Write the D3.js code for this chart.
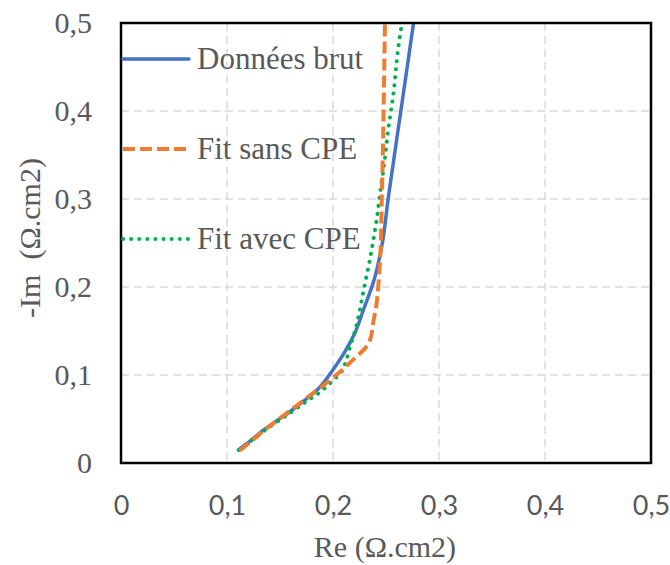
<!DOCTYPE html>
<html><head><meta charset="utf-8">
<script src="https://cdn.jsdelivr.net/npm/d3@7/dist/d3.min.js"></script>
<style>body{margin:0;background:#fff}</style>
</head><body>
<svg id="chart" width="670" height="565"></svg>
<script>
const xTicks = [0, 0.1, 0.2, 0.3, 0.4, 0.5];
const yTicks = [0, 0.1, 0.2, 0.3, 0.4, 0.5];
const seriesNames = ["Données brut", "Fit sans CPE", "Fit avec CPE"];

const brutX = [0.111, 0.122, 0.134, 0.147, 0.159, 0.172, 0.185, 0.200, 0.210, 0.220, 0.229, 0.238, 0.246, 0.252, 0.264, 0.276];
const brutY = [0.015, 0.025, 0.037, 0.048, 0.058, 0.070, 0.083, 0.106, 0.124, 0.146, 0.175, 0.205, 0.246, 0.300, 0.400, 0.500];

const sansX = [0.112, 0.124, 0.136, 0.148, 0.160, 0.172, 0.185, 0.197, 0.207, 0.216, 0.224, 0.230, 0.235, 0.238, 0.241, 0.243, 0.245, 0.246, 0.247, 0.248, 0.249];
const sansY = [0.014, 0.026, 0.038, 0.049, 0.060, 0.071, 0.083, 0.094, 0.104, 0.114, 0.123, 0.130, 0.140, 0.160, 0.180, 0.205, 0.245, 0.300, 0.350, 0.420, 0.500];

const avecX = [0.111, 0.120, 0.129, 0.139, 0.150, 0.162, 0.175, 0.186, 0.194, 0.201, 0.207, 0.212, 0.216, 0.221, 0.225, 0.229, 0.233, 0.237, 0.241, 0.244, 0.248, 0.252, 0.257, 0.261, 0.265];
const avecY = [0.015, 0.023, 0.031, 0.040, 0.049, 0.059, 0.070, 0.079, 0.087, 0.095, 0.102, 0.115, 0.132, 0.151, 0.172, 0.197, 0.220, 0.246, 0.275, 0.303, 0.337, 0.378, 0.420, 0.466, 0.500];

const svg = d3.select("#chart");
const L = 121, R = 651, T = 23, B = 463;
const x = d3.scaleLinear().domain([0, 0.5]).range([L, R]);
const y = d3.scaleLinear().domain([0, 0.5]).range([B, T]);
const fmt = d => d3.format(".1f")(d).replace(".", ",").replace(/^0,0$/, "0");
const grey = "#595959";
const serif = "'Liberation Serif','Times New Roman',serif";
const sans = "Lato,'Liberation Sans',sans-serif";

// grid
const grid = svg.append("g");
grid.selectAll("line.v").data(xTicks.slice(1, -1)).enter().append("line")
  .attr("x1", d => x(d)).attr("x2", d => x(d)).attr("y1", T).attr("y2", B)
  .attr("stroke", "#d9d9d9").attr("stroke-width", 1.5).attr("stroke-dasharray", "8,5");
grid.selectAll("line.h").data(yTicks.slice(1, -1)).enter().append("line")
  .attr("x1", L).attr("x2", R).attr("y1", d => y(d)).attr("y2", d => y(d))
  .attr("stroke", "#d9d9d9").attr("stroke-width", 1.5).attr("stroke-dasharray", "8,5");

// axes tick labels via d3 axes
const xAxis = svg.append("g").attr("transform", `translate(0,${B})`)
  .call(d3.axisBottom(x).tickValues(xTicks).tickFormat(fmt).tickSize(0).tickPadding(33));
xAxis.select(".domain").remove();
xAxis.attr("font-family", null).attr("font-size", null);
xAxis.selectAll("text").style("font-family", sans).style("font-size", "27px").attr("fill", grey);

const yAxis = svg.append("g").attr("transform", `translate(${L},0)`)
  .call(d3.axisLeft(y).tickValues(yTicks).tickFormat(fmt).tickSize(0).tickPadding(29));
yAxis.select(".domain").remove();
yAxis.attr("font-family", null).attr("font-size", null);
yAxis.selectAll("text").style("font-family", serif).style("font-size", "30px").attr("fill", grey);

// series
const mk = (xs, ys) => xs.map((v, i) => [v, ys[i]]);
const line = d3.line().x(d => x(d[0])).y(d => y(d[1])).curve(d3.curveMonotoneY);
const styles = [
  {color: "#4472c4", dash: null, cap: "round", w: 3.5},
  {color: "#ed7d31", dash: "12,5", cap: "butt", w: 4},
  {color: "#00b050", dash: "0.1,8", cap: "round", w: 4}
];
const data = [mk(brutX, brutY), mk(sansX, sansY), mk(avecX, avecY)];
svg.append("clipPath").attr("id", "clip").append("rect")
  .attr("x", L).attr("y", T).attr("width", R - L).attr("height", B - T);
const plot = svg.append("g").attr("clip-path", "url(#clip)");
[0, 2, 1].forEach(i => {
  plot.append("path").attr("d", line(data[i])).attr("fill", "none")
    .attr("stroke", styles[i].color).attr("stroke-width", styles[i].w)
    .attr("stroke-dasharray", styles[i].dash).attr("stroke-linecap", styles[i].cap)
    .attr("stroke-linejoin", "round");
});

// border
svg.append("rect").attr("x", L).attr("y", T).attr("width", R - L).attr("height", B - T)
  .attr("fill", "none").attr("stroke", "#000").attr("stroke-width", 2.5);

// legend
const legY = [59, 149, 239];
seriesNames.forEach((n, i) => {
  svg.append("line").attr("x1", 123).attr("x2", 189).attr("y1", legY[i]).attr("y2", legY[i])
    .attr("stroke", styles[i].color).attr("stroke-width", styles[i].w)
    .attr("stroke-dasharray", styles[i].dash).attr("stroke-linecap", styles[i].cap);
  svg.append("text").attr("x", 197).attr("y", legY[i] + 10).text(n)
    .style("font-family", serif).style("font-size", "31px").attr("fill", grey);
});

// axis titles
svg.append("text").attr("x", (L + R) / 2 - 1).attr("y", 557).attr("text-anchor", "middle")
  .style("font-family", serif).style("font-size", "30px").attr("fill", grey).text("Re (Ω.cm2)");
svg.append("text").attr("transform", "translate(40,238) rotate(-90)").attr("text-anchor", "middle")
  .style("font-family", serif).style("font-size", "30px").attr("fill", grey)
  .style("white-space", "pre").text("-Im  (Ω.cm2)");
</script>
</body></html>
